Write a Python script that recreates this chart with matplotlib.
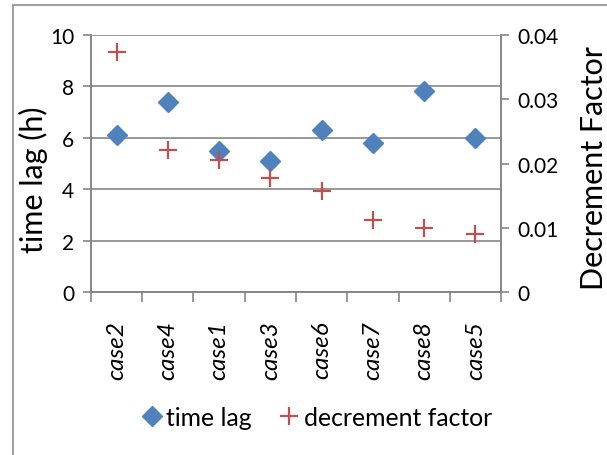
import matplotlib.pyplot as plt
from matplotlib.lines import Line2D

plt.rcParams['font.family'] = ['Lato', 'DejaVu Sans']

cases = ['case2', 'case4', 'case1', 'case3', 'case6', 'case7', 'case8', 'case5']
time_lag = [6.1, 7.4, 5.5, 5.1, 6.3, 5.8, 7.8, 6.0]
decrement_factor = [0.0373, 0.0221, 0.0205, 0.0178, 0.0157, 0.0112, 0.0100, 0.0091]

blue = '#4F81BD'
red = '#C0504D'
grey = '#868686'

fig = plt.figure(figsize=(6.07, 4.56), dpi=100)
ax = fig.add_axes([0.1499, 0.3568, 0.6755, 0.5649])
ax2 = ax.twinx()

x = list(range(len(cases)))
ax.plot(x, time_lag, linestyle='none', marker='D', markersize=10,
        color=blue, zorder=3)
ax2.plot(x, decrement_factor, linestyle='none', marker='+', markersize=13.5,
         markeredgewidth=1.6, color=red, zorder=3)

ax.set_xlim(-0.5, len(cases) - 0.5)
ax.set_ylim(0, 10)
ax.set_yticks([0, 2, 4, 6, 8, 10])
ax2.set_ylim(0, 0.04)
ax2.set_yticks([0, 0.01, 0.02, 0.03, 0.04])
ax2.set_yticklabels(['0', '0.01', '0.02', '0.03', '0.04'])

# category ticks at the boundaries, labels in the middle
ax.set_xticks([i - 0.5 for i in range(len(cases) + 1)])
ax.set_xticklabels([])
ax.set_xticks(x, minor=True)
ax.set_xticklabels(cases, minor=True, rotation=90, fontsize=17.5,
                   style='italic')
ax.tick_params(axis='x', which='minor', length=0, pad=20)
ax.tick_params(axis='x', which='major', length=7, width=1.2, color=grey,
               direction='out')

ax.tick_params(axis='y', length=6, width=1.2, color=grey, labelsize=15, pad=6)
ax2.tick_params(axis='y', length=6, width=1.2, color=grey, labelsize=15, pad=6)

ax.yaxis.grid(True, color=grey, linewidth=1.2)
ax.set_axisbelow(True)

for a in (ax, ax2):
    for side in ('left', 'right', 'bottom'):
        a.spines[side].set_color(grey)
        a.spines[side].set_linewidth(1.2)
    a.spines['top'].set_visible(False)

ax.set_ylabel('time lag (h)', fontsize=22)
ax.yaxis.set_label_coords(-0.105, 0.44)
ax2.set_ylabel('Decrement Factor', fontsize=22)
ax2.yaxis.set_label_coords(1.193, 0.486)

handles = [
    Line2D([], [], linestyle='none', marker='D', markersize=10, color=blue),
    Line2D([], [], linestyle='none', marker='+', markersize=13.5,
           markeredgewidth=1.6, color=red),
]
fig.legend(handles, ['time lag', 'decrement factor'], loc='center',
           bbox_to_anchor=(0.52, 0.083), ncol=2, frameon=False, fontsize=17.8,
           handletextpad=0.1, columnspacing=1.0, handlelength=1.0)

# chart-area border (top and left edges visible)
fig.add_artist(Line2D([0.021, 1.0], [0.987, 0.987], color='#A0A0A0',
                      linewidth=1.5, transform=fig.transFigure))
fig.add_artist(Line2D([0.021, 0.021], [0.0, 0.987], color='#A0A0A0',
                      linewidth=1.5, transform=fig.transFigure))

fig.savefig('out.png', dpi=100)
